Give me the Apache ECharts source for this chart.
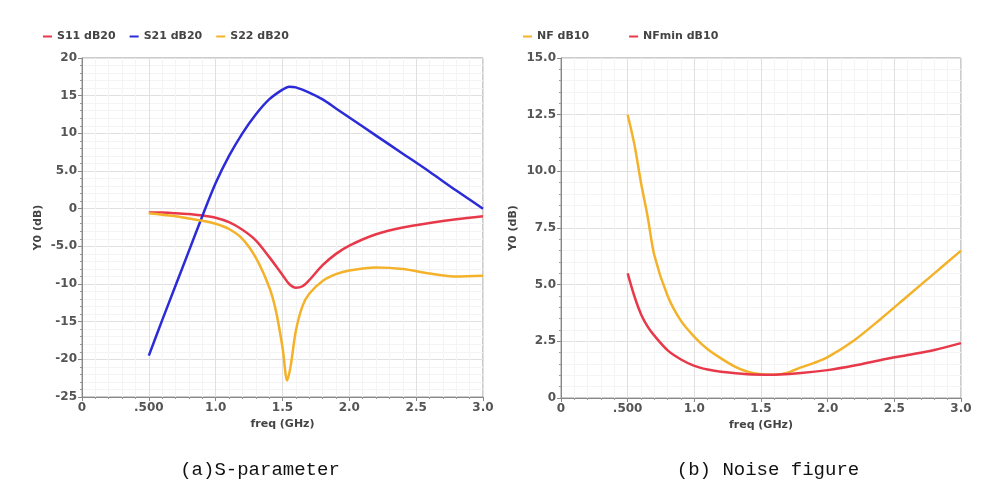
<!DOCTYPE html>
<html><head><meta charset="utf-8">
<script src="https://cdn.jsdelivr.net/npm/echarts@6/dist/echarts.min.js"></script>
<style>
html,body{margin:0;padding:0;background:#fff;}
#c{width:998px;height:488px;}
</style></head>
<body><div id="c"></div>
<script>
// ---- data ----
const s11 = [[0.5,-0.5],[0.6,-0.5],[0.7,-0.6],[0.8,-0.7],[0.9,-0.9],[1.0,-1.2],[1.1,-1.8],[1.2,-2.8],[1.3,-4.2],[1.4,-6.4],[1.5,-8.8],[1.55,-10.0],[1.6,-10.5],[1.65,-10.3],[1.7,-9.5],[1.8,-7.5],[1.9,-6.0],[2.0,-4.9],[2.2,-3.4],[2.4,-2.5],[2.6,-1.9],[2.8,-1.4],[3.0,-1.0]];
const s21 = [[0.5,-19.5],[0.6,-14.8],[0.7,-10.2],[0.8,-5.6],[0.9,-1.0],[1.0,3.4],[1.1,7.0],[1.2,10.0],[1.3,12.5],[1.4,14.5],[1.5,15.8],[1.55,16.2],[1.6,16.1],[1.7,15.4],[1.8,14.5],[1.9,13.3],[2.0,12.1],[2.2,9.7],[2.4,7.3],[2.6,4.9],[2.8,2.4],[3.0,0.0]];
const s22 = [[0.5,-0.6],[0.6,-0.8],[0.7,-1.0],[0.8,-1.3],[0.9,-1.6],[1.0,-2.0],[1.1,-2.7],[1.2,-4.0],[1.3,-6.5],[1.4,-10.4],[1.45,-13.5],[1.5,-18.4],[1.535,-22.8],[1.56,-21.0],[1.6,-16.2],[1.65,-12.9],[1.7,-11.3],[1.8,-9.6],[1.9,-8.7],[2.0,-8.2],[2.2,-7.8],[2.4,-8.0],[2.6,-8.6],[2.8,-9.0],[3.0,-8.9]];
const nf = [[0.5,12.5],[0.55,11.2],[0.6,9.5],[0.65,8.0],[0.7,6.3],[0.8,4.5],[0.9,3.4],[1.0,2.7],[1.1,2.15],[1.2,1.75],[1.3,1.4],[1.4,1.16],[1.5,1.05],[1.6,1.03],[1.7,1.12],[1.8,1.35],[1.9,1.55],[2.0,1.8],[2.2,2.55],[2.4,3.5],[2.6,4.5],[2.8,5.5],[3.0,6.5]];
const nfmin = [[0.5,5.5],[0.55,4.5],[0.6,3.7],[0.65,3.15],[0.7,2.75],[0.8,2.1],[0.9,1.7],[1.0,1.42],[1.1,1.26],[1.2,1.16],[1.4,1.05],[1.6,1.03],[1.8,1.1],[2.0,1.23],[2.2,1.43],[2.4,1.68],[2.6,1.9],[2.8,2.12],[3.0,2.42]];
const xTickLabels = ['0','.500','1.0','1.5','2.0','2.5','3.0'];
const yLeftTickLabels = ['-25','-20','-15','-10','-5.0','0','5.0','10','15','20'];
const yRightTickLabels = ['0','2.5','5.0','7.5','10.0','12.5','15.0'];
const captions = ['(a)S-parameter','(b) Noise figure'];

const C_RED = '#e8394a', C_BLUE = '#2b2bd8', C_ORANGE = '#f4b22a';
const labelFont = {color:'#555', fontSize:12, fontWeight:'bold', fontFamily:'DejaVu Sans'};

function xAxis(gi){
  return {type:'value', gridIndex:gi, min:0, max:3, interval:0.5,
    name:'freq (GHz)', nameLocation:'middle', nameGap:22,
    nameTextStyle:{color:'#444', fontSize:11, fontWeight:'bold', fontFamily:'DejaVu Sans'},
    axisLine:{show:true, onZero:false, lineStyle:{color:'#888'}},
    axisTick:{show:true, length:4, inside:false, lineStyle:{color:'#888'}},
    minorTick:{show:true, splitNumber:5, length:2, lineStyle:{color:'#999'}},
    axisLabel:Object.assign({margin:5, formatter:(v,i)=>xTickLabels[Math.round(v/0.5)]}, labelFont),
    splitLine:{show:true, lineStyle:{color:'#e0e0e0'}},
    minorSplitLine:{show:true, lineStyle:{color:'#f4f4f4'}}
  };
}
function yAxis(gi, min, max, interval, labels){
  return {type:'value', gridIndex:gi, min:min, max:max, interval:interval,
    name:'Y0 (dB)', nameLocation:'middle', nameGap: gi===0?38:42, nameRotate:90,
    nameTextStyle:{color:'#444', fontSize:11, fontWeight:'bold', fontFamily:'DejaVu Sans'},
    axisLine:{show:true, onZero:false, lineStyle:{color:'#888'}},
    axisTick:{show:true, length:4, lineStyle:{color:'#888'}},
    minorTick:{show:true, splitNumber:5, length:2, lineStyle:{color:'#999'}},
    axisLabel:Object.assign({margin:5, formatter:(v)=>labels[Math.round((v-min)/interval)]}, labelFont),
    splitLine:{show:true, lineStyle:{color:'#e0e0e0'}},
    minorSplitLine:{show:true, lineStyle:{color:'#f4f4f4'}}
  };
}
function line(name, data, color, xi){
  return {name:name, type:'line', xAxisIndex:xi, yAxisIndex:xi, data:data,
    smooth:0.3, showSymbol:false, symbol:'none',
    lineStyle:{color:color, width:2.5}, itemStyle:{color:color}, z:3};
}
const chart = echarts.init(document.getElementById('c'), null, {renderer:'canvas'});
chart.setOption({
  backgroundColor:'#fff',
  animation:false,
  legend:[
    {data:['S11 dB20','S21 dB20','S22 dB20'], left:38, top:26, icon:'rect', itemWidth:9, itemHeight:2, itemGap:14,
     textStyle:{color:'#444', fontSize:11, fontWeight:'bold', fontFamily:'DejaVu Sans'}},
    {data:['NF dB10','NFmin dB10'], left:518, top:26, icon:'rect', itemWidth:9, itemHeight:2, itemGap:40,
     textStyle:{color:'#444', fontSize:11, fontWeight:'bold', fontFamily:'DejaVu Sans'}}
  ],
  grid:[
    {left:82, right:515, top:58, bottom:91, show:true, borderColor:'#999', borderWidth:1},
    {left:561, right:37, top:58, bottom:90, show:true, borderColor:'#999', borderWidth:1}
  ],
  xAxis:[xAxis(0), xAxis(1)],
  yAxis:[yAxis(0,-25,20,5,yLeftTickLabels), yAxis(1,0,15,2.5,yRightTickLabels)],
  title:[
    {text:captions[0], left:255, top:455, textAlign:'center', textStyle:{fontFamily:'Liberation Mono', fontSize:19, fontWeight:'normal', color:'#111'}},
    {text:captions[1], left:763, top:455, textAlign:'center', textStyle:{fontFamily:'Liberation Mono', fontSize:19, fontWeight:'normal', color:'#111'}}
  ],
  series:[
    line('S11 dB20', s11, C_RED, 0),
    line('S21 dB20', s21, C_BLUE, 0),
    line('S22 dB20', s22, C_ORANGE, 0),
    line('NF dB10', nf, C_ORANGE, 1),
    line('NFmin dB10', nfmin, C_RED, 1)
  ]
});
</script></body></html>
